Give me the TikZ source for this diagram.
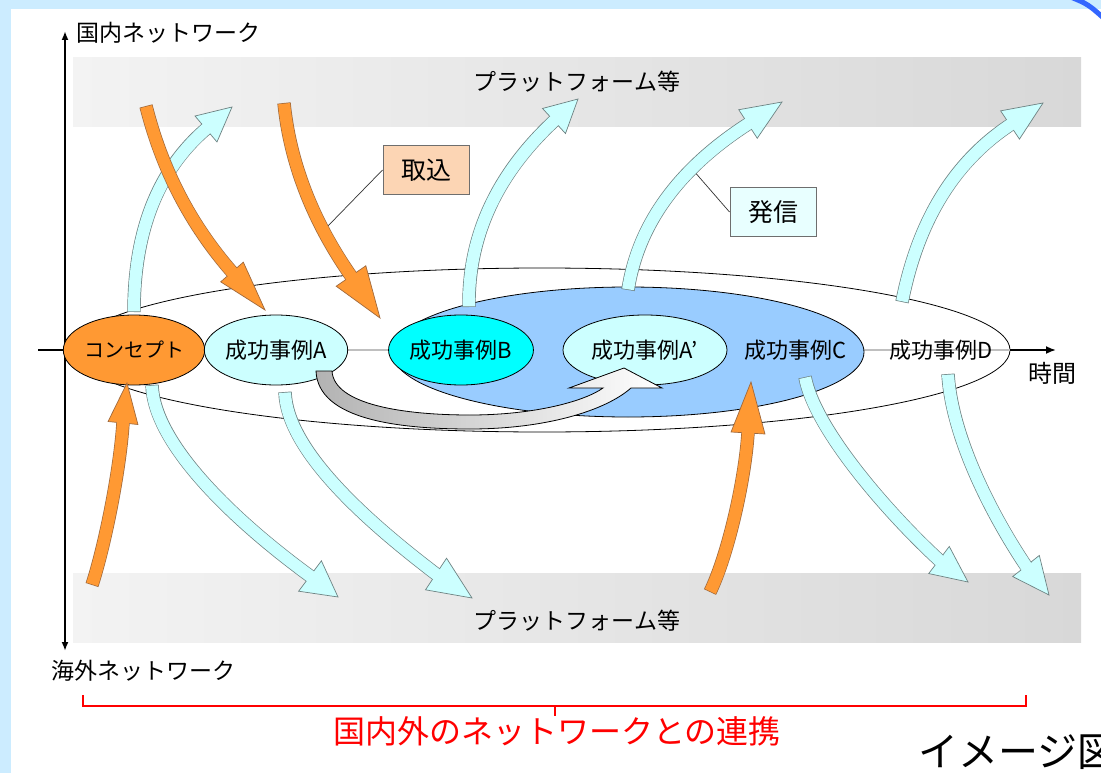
\documentclass[tikz,border=0pt]{standalone}
\usepackage{fontspec}
\setmainfont{Noto Sans CJK JP}
\usetikzlibrary{shapes.geometric,calc,arrows.meta}
\definecolor{frameC}{RGB}{204,236,255}
\definecolor{bandL}{RGB}{243,243,243}
\definecolor{bandR}{RGB}{216,216,216}
\definecolor{orangeF}{RGB}{255,153,51}
\definecolor{orangeL}{RGB}{160,105,60}
\definecolor{cyanF}{RGB}{204,255,255}
\definecolor{cyanL}{RGB}{110,130,130}
\definecolor{aquaF}{RGB}{0,255,255}
\definecolor{blueF}{RGB}{153,204,255}
\definecolor{peach}{RGB}{252,213,180}
\definecolor{paleC}{RGB}{232,255,255}
\definecolor{boxL}{RGB}{110,110,110}
\definecolor{redT}{RGB}{255,0,0}
\definecolor{arcB}{RGB}{51,102,255}
\newcommand{\fsz}[1]{\fontsize{#1}{#1}\selectfont}
\newcommand{\blockarr}[7]{%
  \coordinate (p0) at (#2);\coordinate (pb) at (#5);\coordinate (ptip) at (#6);
  \filldraw[#1 head] (ptip) -- ($(pb)!#7!90:(ptip)$) -- ($(pb)!#7!-90:(ptip)$) -- cycle;
  \draw[#1 edge] (p0) .. controls (#3) and (#4) .. (pb);
  \draw[#1 body] (p0) .. controls (#3) and (#4) .. (pb);}
\begin{document}
\begin{tikzpicture}[x=1pt,y=-1pt,
  cy head/.style={fill=cyanF, draw=cyanL, line width=0.7pt, line join=miter},
  cy edge/.style={draw=cyanL, line width=13.4pt},
  cy body/.style={draw=cyanF, line width=12pt, shorten >=-1.5pt, shorten <=0.7pt},
  or head/.style={fill=orangeF, draw=orangeL, line width=0.7pt, line join=miter},
  or edge/.style={draw=orangeL, line width=13.4pt},
  or body/.style={draw=orangeF, line width=12pt, shorten >=-1.5pt, shorten <=0.7pt},
  lbl/.style={font=\fsz{23}, inner sep=0pt},
  axisline/.style={draw=black, line width=1.8pt},
  nodeell/.style={ellipse, draw=black, line width=0.8pt, inner sep=0pt, minimum height=70pt, font=\fsz{22}},
  bigell/.style={ellipse, draw=black, line width=0.8pt, inner sep=0pt},
  tagbox/.style={draw=boxL, line width=1pt, minimum width=86pt, minimum height=49pt, inner sep=0pt, font=\fsz{25}},
  leader/.style={draw=black!80, line width=0.7pt}
]
\useasboundingbox (0,0) rectangle (1101,773);
\clip (0,0) rectangle (1101,773);
\fill[frameC] (0,0) rectangle (1101,773);
\fill[white] (11,9) rectangle (1101,773);
\draw[arcB, line width=5pt] (1068,-4) .. controls (1088,4) .. (1108,22);
% bands
\shade[left color=bandL,right color=bandR] (73,58) rectangle (1081,127);
\shade[left color=bandL,right color=bandR] (73,573) rectangle (1081,642);
\node[lbl] (plt1) at (577,82) {プラットフォーム等};
\node[lbl] (plt2) at (577,621) {プラットフォーム等};
% vertical axis
\coordinate (vtop) at (65,31);
\coordinate (vbot) at (65,651);
\draw[axisline, {Latex[length=9pt,width=7pt]}-{Latex[length=9pt,width=7pt]}] (vbot) -- (vtop);
\node[lbl, anchor=west] (dom) at (76,33) {国内ネットワーク};
\node[lbl, anchor=west] (ovs) at (51,671) {海外ネットワーク};
% ellipses
\node[bigell, fill=white, minimum width=936pt, minimum height=164pt] (outer) at (542,350) {};
\draw[black!25, line width=1.6pt] (outer.west) -- (outer.east);
\node[bigell, fill=blueF, minimum width=472pt, minimum height=130pt] (blue) at (628,352) {};
\coordinate (hl) at (38,350);
\coordinate (hr) at (1056,350);
\draw[axisline] (hl) -- (outer.west);
\draw[axisline, -{Latex[length=10pt,width=8pt]}] (outer.east) -- (hr);
\node[lbl, font=\fsz{24}] (time) at (1052,373) {時間};
% nodes
\node[nodeell, fill=orangeF, minimum width=120pt, font=\fsz{20}] (concept) at (134,350) {コンセプト};
\node[nodeell, fill=cyanF, minimum width=128pt] (caseA) at (276,350) {成功事例A};
\node[nodeell, fill=aquaF, minimum width=138pt] (caseB) at (461,350) {成功事例B};
\node[nodeell, fill=cyanF, minimum width=164pt] (caseA2) at (645,350) {成功事例A{\char"0027}};
\node[font=\fsz{22}, inner sep=0pt] (caseC) at (796,350) {成功事例C};
\node[font=\fsz{22}, inner sep=0pt] (caseD) at (941,350) {成功事例D};
% gray arrow A -> A'
\shadedraw[left color=black!30, right color=white, draw=black, line width=0.8pt, line join=miter]
 (316,371) .. controls (318,420) and (400,429) .. (470,429)
 .. controls (545,429) and (605,411) .. (631,388)
 -- (662,388) -- (624,368) -- (569,388) -- (603,388)
 .. controls (585,401) and (535,415) .. (470,415)
 .. controls (405,415) and (334,405) .. (332,371) -- cycle;
% tag boxes leaders
\node[tagbox, fill=peach] (tk) at (426,170) {取込};
\node[tagbox, fill=paleC] (hs) at (773,212) {発信};
\coordinate (tkend) at (326,228);
\coordinate (hsend) at (693,170);
\draw[leader] (tk.west) -- (tkend);
\draw[leader] (hs.west) -- (hsend);
% cyan arrows
\blockarr{cy}{134,312}{134,231}{158,170}{206,129}{232,107}{17pt}
\blockarr{cy}{469,307}{468,236}{497,174}{554,121}{578,99}{17pt}
\blockarr{cy}{628,290}{638,225}{678,169}{748,124}{782,102}{17pt}
\blockarr{cy}{902,302}{918,221}{954,162}{1010,125}{1043,103}{17pt}
\blockarr{cy}{152,385}{154,445}{236,522}{310,576}{338,597}{19pt}
\blockarr{cy}{285,392}{287,450}{365,520}{436,574}{472,598}{19pt}
\blockarr{cy}{805,377}{815,430}{890,515}{939,560}{968,582}{17pt}
\blockarr{cy}{948,374}{952,440}{995,520}{1026,566}{1049,595}{17pt}
% orange arrows
\blockarr{or}{146,106}{162,169}{190,224}{232,272}{265,310}{15pt}
\blockarr{or}{284,103}{290,162}{312,220}{351,276}{380,318}{18pt}
\blockarr{or}{92,585}{105,545}{120,470}{123,423}{127,383}{15pt}
\blockarr{or}{710,592}{728,555}{745,480}{748,433}{751,382}{17pt}
% red bracket
\coordinate (b1) at (83,695);
\coordinate (b2) at (1026,695);
\coordinate (bm) at (555,706);
\coordinate (bt) at (555,716);
\draw[redT, line width=1.5pt] (b1) |- (bm) -| (b2);
\draw[redT, line width=1.5pt] (bm) -- (bt);
\node[font=\fsz{32}, text=redT, inner sep=0pt] (title) at (557,731) {国内外のネットワークとの連携};
\node[font=\fsz{40}, inner sep=0pt, anchor=west] (img) at (918,752) {イメージ図};
\end{tikzpicture}
\end{document}
